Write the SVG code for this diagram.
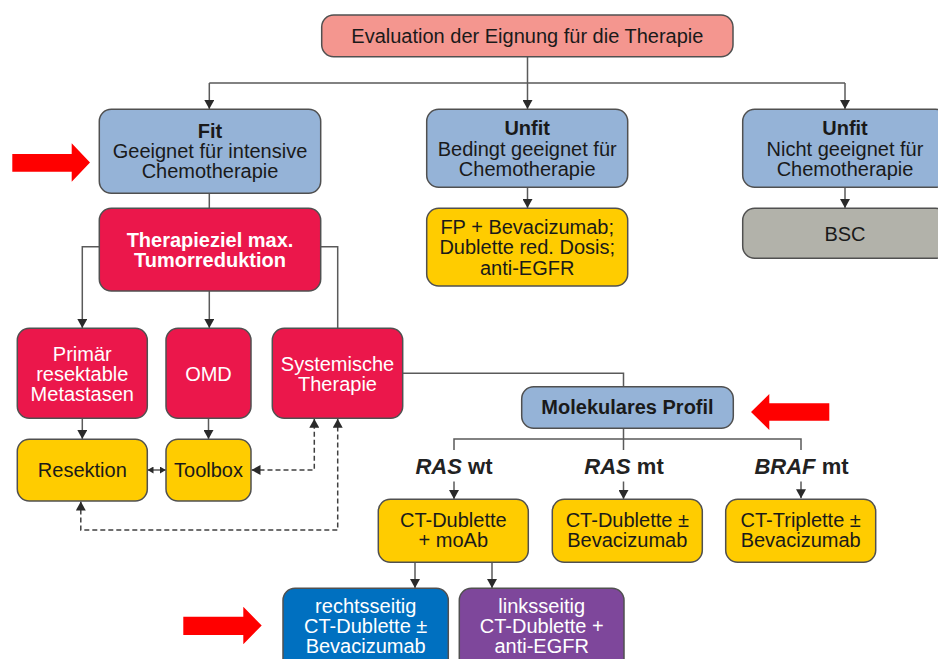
<svg xmlns="http://www.w3.org/2000/svg" width="938" height="659" viewBox="0 0 938 659">
<defs>
<style>
.box{stroke:#505050;stroke-width:1.5}
.salmon{fill:#F4968F}
.blue{fill:#95B3D7}
.yellow{fill:#FFCC00}
.gray{fill:#B2B2AA}
.crimson{fill:#EB174B}
.dblue{fill:#0070C0}
.purple{fill:#7E479B}
.t{font-family:"Liberation Sans",Arial,sans-serif;font-size:20px;fill:#1a1a1a;text-anchor:middle}
.w{fill:#ffffff}
.b{font-weight:bold}
.lbl{font-family:"Liberation Sans",Arial,sans-serif;font-size:22px;font-weight:bold;fill:#222;text-anchor:middle}
.c{fill:none;stroke:#5a5a5a;stroke-width:1.5}
.d{fill:none;stroke:#404040;stroke-width:1.5;stroke-dasharray:5,3}
.red{fill:#FF0000}
</style>
<marker id="ah" viewBox="0 0 9 10" refX="9" refY="5" markerWidth="9" markerHeight="10" markerUnits="userSpaceOnUse" orient="auto-start-reverse">
<path d="M0,0 L9,5 L0,10 z" fill="#2a2a2a"/>
</marker>
<marker id="sh" viewBox="0 0 6 7" refX="6" refY="3.5" markerWidth="6" markerHeight="7" markerUnits="userSpaceOnUse" orient="auto-start-reverse">
<path d="M0,0 L6,3.5 L0,7 z" fill="#2a2a2a"/>
</marker>
</defs>
<rect width="938" height="659" fill="#ffffff"/>

<g id="connectors">
<path class="c" d="M527.5,57 V83 M209.3,83 H845" />
<path class="c" d="M209.3,83 V109" marker-end="url(#ah)"/>
<path class="c" d="M527.5,83 V109" marker-end="url(#ah)"/>
<path class="c" d="M845,83 V109" marker-end="url(#ah)"/>
<path class="c" d="M527.5,187.3 V208" marker-end="url(#ah)"/>
<path class="c" d="M845,187.3 V208" marker-end="url(#ah)"/>
<path class="c" d="M209.3,193.3 V208.3"/>
<path class="c" d="M99.3,246.7 H82.3 V328" marker-end="url(#ah)"/>
<path class="c" d="M209.3,291 V328" marker-end="url(#ah)"/>
<path class="c" d="M320.7,246.7 H337.7 V328.3"/>
<path class="c" d="M82.3,418.3 V439" marker-end="url(#ah)"/>
<path class="c" d="M208.5,418.3 V439" marker-end="url(#ah)"/>
<path class="c" d="M147.5,470 H165.8" marker-start="url(#sh)" marker-end="url(#sh)"/>
<path class="d" d="M251.5,470 H314.3 V418.8" marker-start="url(#ah)" marker-end="url(#ah)"/>
<path class="d" d="M80.8,501.5 V530 H337.7 V418.8" marker-start="url(#ah)" marker-end="url(#ah)"/>
<path class="c" d="M402.7,373.3 H623.5 V386.7"/>
<path class="c" d="M623.5,428.3 V450 M454,450 V439 H801 V450"/>
<path class="c" d="M454,481.5 V499" marker-end="url(#ah)"/>
<path class="c" d="M623.5,481.5 V499" marker-end="url(#ah)"/>
<path class="c" d="M801,481.5 V498.3" marker-end="url(#ah)"/>
<path class="c" d="M415,562.3 V588" marker-end="url(#ah)"/>
<path class="c" d="M492,562.3 V588" marker-end="url(#ah)"/>
</g>

<g id="n-evaluation">
<rect class="box salmon" x="321.7" y="15" width="411.3" height="41.7" rx="12"/>
<text class="t" x="527.4" y="43.3">Evaluation der Eignung für die Therapie</text>
</g>
<g id="n-fit">
<rect class="box blue" x="99.3" y="109.3" width="221.4" height="84" rx="12"/>
<text class="t" x="210" y="138"><tspan class="b">Fit</tspan><tspan x="210" y="158">Geeignet für intensive</tspan><tspan x="210" y="178">Chemotherapie</tspan></text>
</g>
<g id="n-unfit1">
<rect class="box blue" x="426.7" y="109.3" width="201" height="78" rx="12"/>
<text class="t" x="527.2" y="135"><tspan class="b">Unfit</tspan><tspan x="527.2" y="155.5">Bedingt geeignet für</tspan><tspan x="527.2" y="176">Chemotherapie</tspan></text>
</g>
<g id="n-unfit2">
<rect class="box blue" x="742.7" y="109.3" width="205" height="78" rx="12"/>
<text class="t" x="845" y="135"><tspan class="b">Unfit</tspan><tspan x="845" y="155.5">Nicht geeignet für</tspan><tspan x="845" y="176">Chemotherapie</tspan></text>
</g>
<g id="n-fp">
<rect class="box yellow" x="426.7" y="208.3" width="201" height="77.7" rx="12"/>
<text class="t" x="527.2" y="233.5">FP + Bevacizumab;<tspan x="527.2" y="254">Dublette red. Dosis;</tspan><tspan x="527.2" y="274.5">anti-EGFR</tspan></text>
</g>
<g id="n-bsc">
<rect class="box gray" x="742.7" y="208.3" width="205" height="50" rx="12"/>
<text class="t" x="845" y="240.7">BSC</text>
</g>
<g id="n-therapieziel">
<rect class="box crimson" x="99.3" y="208.3" width="221.4" height="82.7" rx="12"/>
<text class="t w b" x="210" y="246.7">Therapieziel max.<tspan x="210" y="266.7">Tumorreduktion</tspan></text>
</g>
<g id="n-primaer">
<rect class="box crimson" x="17.3" y="328.3" width="130" height="90" rx="12"/>
<text class="t w" x="82.3" y="361">Primär<tspan x="82.3" y="381">resektable</tspan><tspan x="82.3" y="401">Metastasen</tspan></text>
</g>
<g id="n-omd">
<rect class="box crimson" x="166" y="328.3" width="85" height="90" rx="12"/>
<text class="t w" x="208.5" y="381">OMD</text>
</g>
<g id="n-systemische">
<rect class="box crimson" x="272.3" y="328.3" width="130.4" height="90" rx="12"/>
<text class="t w" x="337.5" y="370.7">Systemische<tspan x="337.5" y="390.7">Therapie</tspan></text>
</g>
<g id="n-resektion">
<rect class="box yellow" x="17.3" y="439.3" width="130" height="61.7" rx="12"/>
<text class="t" x="82.3" y="476.7">Resektion</text>
</g>
<g id="n-toolbox">
<rect class="box yellow" x="166" y="439.3" width="85" height="61.7" rx="12"/>
<text class="t" x="208.5" y="476.7">Toolbox</text>
</g>
<g id="n-molekular">
<rect class="box blue" x="521.7" y="386.7" width="211.6" height="41.6" rx="12"/>
<text class="t b" x="627.5" y="414">Molekulares Profil</text>
</g>
<g id="labels">
<text class="lbl" x="454" y="474"><tspan font-style="italic">RAS</tspan> wt</text>
<text class="lbl" x="624" y="474"><tspan font-style="italic">RAS</tspan> mt</text>
<text class="lbl" x="801.5" y="474"><tspan font-style="italic">BRAF</tspan> mt</text>
</g>
<g id="n-moab">
<rect class="box yellow" x="378.3" y="499.3" width="150" height="63" rx="12"/>
<text class="t" x="453.3" y="527">CT-Dublette<tspan x="453.3" y="547">+ moAb</tspan></text>
</g>
<g id="n-rasmt">
<rect class="box yellow" x="552.3" y="499.3" width="150" height="63" rx="12"/>
<text class="t" x="627.3" y="527">CT-Dublette ±<tspan x="627.3" y="547">Bevacizumab</tspan></text>
</g>
<g id="n-braf">
<rect class="box yellow" x="725.7" y="499.3" width="150" height="63" rx="12"/>
<text class="t" x="800.7" y="527">CT-Triplette ±<tspan x="800.7" y="547">Bevacizumab</tspan></text>
</g>
<g id="n-rechts">
<rect class="box dblue" x="283" y="588.3" width="165.3" height="85" rx="12"/>
<text class="t w" x="365.7" y="613">rechtsseitig<tspan x="365.7" y="633">CT-Dublette ±</tspan><tspan x="365.7" y="653">Bevacizumab</tspan></text>
</g>
<g id="n-links">
<rect class="box purple" x="459.3" y="588.3" width="164.7" height="85" rx="12"/>
<text class="t w" x="541.7" y="613">linksseitig<tspan x="541.7" y="633">CT-Dublette +</tspan><tspan x="541.7" y="653">anti-EGFR</tspan></text>
</g>
<g id="red-arrows">
<polygon class="red" points="12.3,154 71.7,154 71.7,143.3 90,162.5 71.7,181.7 71.7,171.7 12.3,171.7"/>
<polygon class="red" points="183.3,616.7 243.3,616.7 243.3,606.7 261.7,625.5 243.3,644.3 243.3,635 183.3,635"/>
<polygon class="red" points="829.3,403.3 769.3,403.3 769.3,394 751,412 769.3,430 769.3,420.7 829.3,420.7"/>
</g>
</svg>
